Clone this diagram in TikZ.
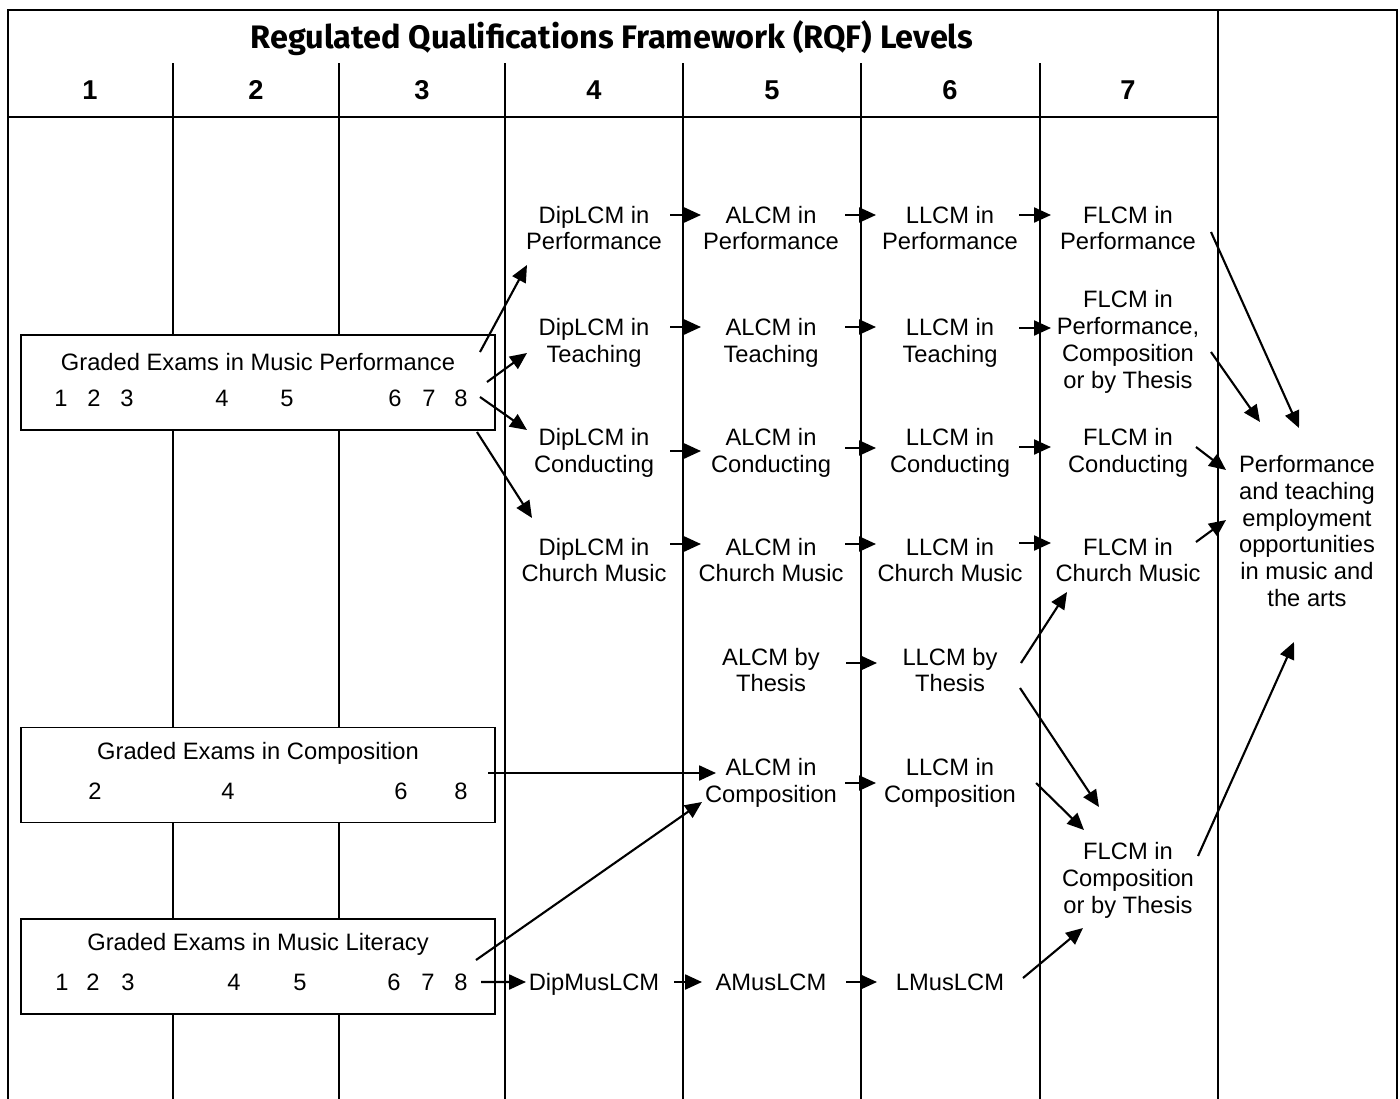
\documentclass[tikz,border=0pt]{standalone}
\usepackage{fontspec}
\setmainfont{Liberation Sans}
\newfontfamily\headfont{Fira Sans}
\usetikzlibrary{arrows.meta}

\begin{document}
\begin{tikzpicture}[x=0.02cm, y=-0.02cm,
        rule/.style={line width=1.1pt, black},
        arr/.style={line width=1.2pt, -{Triangle[length=9.6pt,width=8.5pt]}},
        txt/.style={font=\fontsize{13.5}{15.3}\selectfont},
        lvl/.style={txt, align=center, inner sep=0pt},
        gradebox/.style={draw, line width=1.1pt, fill=white, inner sep=0pt,
            minimum width=9.48cm, minimum height=1.9cm}]
            \useasboundingbox (0,0) rectangle (1400,1099);
            % table
            \draw[rule] (8,1099) -- (8,10) -- (1397,10) -- (1397,1099);
            \draw[rule] (1218,10) -- (1218,1099);
            \draw[rule] (8,117) -- (1218,117);
            \draw[rule] (173,63) -- (173,1099);
            \draw[rule] (339,63) -- (339,1099);
            \draw[rule] (505,63) -- (505,1099);
            \draw[rule] (683,63) -- (683,1099);
            \draw[rule] (861,63) -- (861,1099);
            \draw[rule] (1040,63) -- (1040,1099);
            \node[font=\headfont\bfseries\fontsize{18.5}{22}\selectfont] (rqf) at (612,38) {Regulated Qualifications Framework (RQF) Levels};
            \foreach \n/\xx in {1/90,2/256,3/422,4/594,5/772,6/950,7/1128}
                \node[font=\bfseries\fontsize{15.5}{18}\selectfont] (lv\n) at (\xx,90) {\n};

            % graded exams
            \node[gradebox] (gradePerf) at (258,382.5) {};
            \node[txt] (gradePerfName) at (258,362) {Graded Exams in Music Performance};
            \foreach \n/\xx in {1/61,2/94,3/127,4/222,5/287,6/395,7/429,8/461}
                \node[txt] (perfNo\n) at (\xx,398) {\n};
            \node[gradebox] (gradeComp) at (258,775) {};
            \node[txt] (gradeCompName) at (258,753) {Graded Exams in Composition};
            \foreach \n/\xx in {2/95,4/228,6/401,8/461}
                \node[txt] (compNo\n) at (\xx,791) {\n};
            \node[gradebox] (gradeLit) at (258,966.5) {};
            \node[txt] (gradeLitName) at (258,944) {Graded Exams in Music Literacy};
            \foreach \n/\xx in {1/62,2/93,3/128,4/234,5/300,6/394,7/428,8/461}
                \node[txt] (litNo\n) at (\xx,982) {\n};

            % diplomas
            \node[lvl] (dipPerf) at (594,228) {DipLCM in\\Performance};
            \node[lvl] (dipTeach) at (594,343) {DipLCM in\\Teaching};
            \node[lvl] (dipCond) at (594,453) {DipLCM in\\Conducting};
            \node[lvl] (dipChurch) at (594,560) {DipLCM in\\Church Music};
            \node[lvl] (dipMus) at (594,984) {DipMusLCM};
            \node[lvl] (alcmPerf) at (771,228) {ALCM in\\Performance};
            \node[lvl] (alcmTeach) at (771,343) {ALCM in\\Teaching};
            \node[lvl] (alcmCond) at (771,453) {ALCM in\\Conducting};
            \node[lvl] (alcmChurch) at (771,560) {ALCM in\\Church Music};
            \node[lvl] (alcmThesis) at (771,670) {ALCM by\\Thesis};
            \node[lvl] (alcmComp) at (771,783) {ALCM in\\Composition};
            \node[lvl] (aMus) at (771,982) {AMusLCM};
            \node[lvl] (llcmPerf) at (950,228) {LLCM in\\Performance};
            \node[lvl] (llcmTeach) at (950,343) {LLCM in\\Teaching};
            \node[lvl] (llcmCond) at (950,453) {LLCM in\\Conducting};
            \node[lvl] (llcmChurch) at (950,560) {LLCM in\\Church Music};
            \node[lvl] (llcmThesis) at (950,670) {LLCM by\\Thesis};
            \node[lvl] (llcmComp) at (950,783) {LLCM in\\Composition};
            \node[lvl] (lMus) at (950,982) {LMusLCM};
            \node[lvl] (flcmPerf) at (1128,228) {FLCM in\\Performance};
            \node[lvl] (flcmTeach) at (1128,342) {FLCM in\\Performance,\\Composition\\or by Thesis};
            \node[lvl] (flcmCond) at (1128,453) {FLCM in\\Conducting};
            \node[lvl] (flcmChurch) at (1128,560) {FLCM in\\Church Music};
            \node[lvl] (flcmComp) at (1128,880) {FLCM in\\Composition\\or by Thesis};
            \node[lvl] (jobs) at (1307,531) {Performance\\and teaching\\employment\\opportunities\\in music and\\the arts};

            % from graded exams
            \draw[arr] ([shift={(222,-30.5)}]gradePerf.center) -- ([shift={(-67,37)}]dipPerf.center);
            \draw[arr] ([shift={(229,-0.5)}]gradePerf.center) -- ([shift={(-67,10)}]dipTeach.center);
            \draw[arr] ([shift={(222,14.5)}]gradePerf.center) -- ([shift={(-67,-23)}]dipCond.center);
            \draw[arr] ([shift={(219,49.5)}]gradePerf.center) -- ([shift={(-62,-42)}]dipChurch.center);
            \draw[arr] ([shift={(230,-2)}]gradeComp.center) -- ([shift={(-55,-10)}]alcmComp.center);
            \draw[arr] ([shift={(218,-6.5)}]gradeLit.center) -- ([shift={(-69,19)}]alcmComp.center);
            \draw[arr] ([shift={(223,15.5)}]gradeLit.center) -- ([shift={(-68,-2)}]dipMus.center);

            % along the rows
            \draw[arr] ([shift={(76,-13)}]dipPerf.center) -- ([shift={(-70,-13)}]alcmPerf.center);
            \draw[arr] ([shift={(74,-13)}]alcmPerf.center) -- ([shift={(-74,-13)}]llcmPerf.center);
            \draw[arr] ([shift={(69,-13)}]llcmPerf.center) -- ([shift={(-77,-13)}]flcmPerf.center);
            \draw[arr] ([shift={(76,-16)}]dipTeach.center) -- ([shift={(-70,-16)}]alcmTeach.center);
            \draw[arr] ([shift={(74,-16)}]alcmTeach.center) -- ([shift={(-74,-16)}]llcmTeach.center);
            \draw[arr] ([shift={(69,-15)}]llcmTeach.center) -- ([shift={(-77,-14)}]flcmTeach.center);
            \draw[arr] ([shift={(76,-2)}]dipCond.center) -- ([shift={(-70,-2)}]alcmCond.center);
            \draw[arr] ([shift={(74,-5)}]alcmCond.center) -- ([shift={(-74,-5)}]llcmCond.center);
            \draw[arr] ([shift={(69,-6)}]llcmCond.center) -- ([shift={(-77,-6)}]flcmCond.center);
            \draw[arr] ([shift={(76,-16)}]dipChurch.center) -- ([shift={(-70,-16)}]alcmChurch.center);
            \draw[arr] ([shift={(74,-16)}]alcmChurch.center) -- ([shift={(-74,-16)}]llcmChurch.center);
            \draw[arr] ([shift={(69,-17)}]llcmChurch.center) -- ([shift={(-77,-17)}]flcmChurch.center);
            \draw[arr] ([shift={(75,-7)}]alcmThesis.center) -- ([shift={(-73,-7)}]llcmThesis.center);
            \draw[arr] ([shift={(74,0)}]alcmComp.center) -- ([shift={(-74,0)}]llcmComp.center);
            \draw[arr] ([shift={(80,-2)}]dipMus.center) -- ([shift={(-69,0)}]aMus.center);
            \draw[arr] ([shift={(75,0)}]aMus.center) -- ([shift={(-73,0)}]lMus.center);

            % to the fellowships
            \draw[arr] ([shift={(71,-7)}]llcmThesis.center) -- ([shift={(-61,32)}]flcmChurch.center);
            \draw[arr] ([shift={(70,18)}]llcmThesis.center) -- ([shift={(-29,-73)}]flcmComp.center);
            \draw[arr] ([shift={(86,0)}]llcmComp.center) -- ([shift={(-44,-50)}]flcmComp.center);
            \draw[arr] ([shift={(73,-4)}]lMus.center) -- ([shift={(-45,48)}]flcmComp.center);

            % to employment
            \draw[arr] ([shift={(83,4)}]flcmPerf.center) -- ([shift={(-8,-103)}]jobs.center);
            \draw[arr] ([shift={(83,10)}]flcmTeach.center) -- ([shift={(-47,-109)}]jobs.center);
            \draw[arr] ([shift={(68,-6)}]flcmCond.center) -- ([shift={(-81,-61)}]jobs.center);
            \draw[arr] ([shift={(68,-18)}]flcmChurch.center) -- ([shift={(-81,-11)}]jobs.center);
            \draw[arr] ([shift={(70,-24)}]flcmComp.center) -- ([shift={(-13,111)}]jobs.center);
        \end{tikzpicture}
\end{document}
